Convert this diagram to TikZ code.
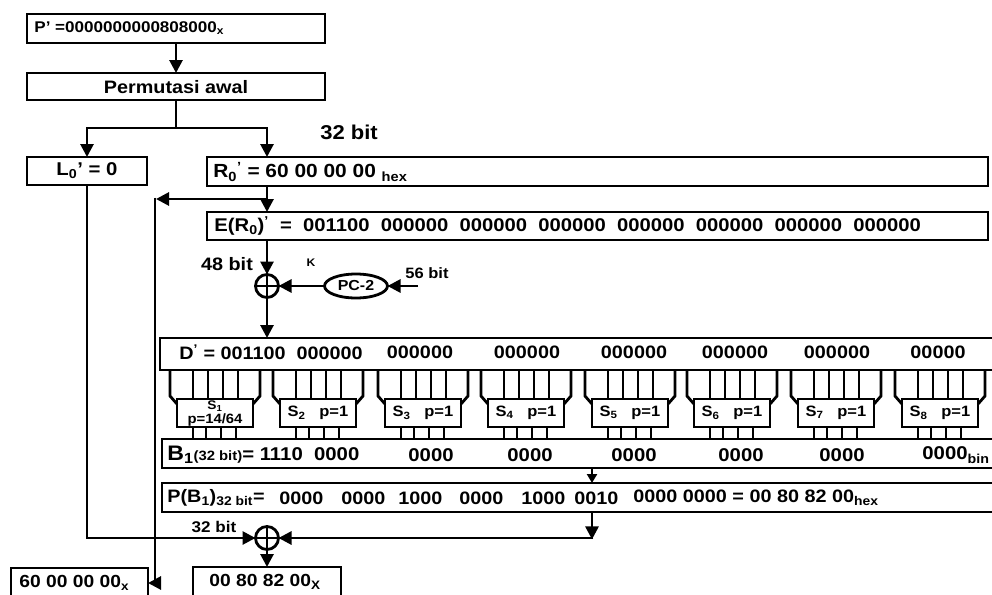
\documentclass[tikz,border=0pt]{standalone}
\usepackage{fontspec}
\setmainfont[FakeStretch=1.1]{Liberation Sans}
\usetikzlibrary{arrows.meta,shapes.geometric}
\newcommand{\sbs}[1]{\textsubscript{#1}}
\newcommand{\sps}[1]{\textsuperscript{#1}}
\newcommand{\fsz}[1]{\fontsize{#1}{#1}\selectfont}
\begin{document}
\begin{tikzpicture}[x=1pt,y=-1pt,
  line width=2.8pt,
  >={Triangle[length=13pt,width=13pt]},
  box/.style={draw, rectangle, line width=2.8pt, inner sep=0pt, outer sep=0pt, anchor=north west},
  tx/.style={inner sep=0pt, font=\bfseries\fontsize{#1}{#1}\selectfont},
  xor/.style={circle, draw, line width=2.8pt, minimum size=23pt, inner sep=0pt, outer sep=0pt,
    path picture={\draw[line width=2.8pt] (path picture bounding box.north) -- (path picture bounding box.south)
      (path picture bounding box.west) -- (path picture bounding box.east);}},
  small/.style={-{Triangle[length=9pt,width=10pt]}}
]
\useasboundingbox (0,0) rectangle (992,594);

% boxes
\node[box, minimum width=298pt, minimum height=29pt] (pp) at (27,14) {};
\node[box, minimum width=298pt, minimum height=27pt] (perm) at (27,73) {};
\node[box, minimum width=120pt, minimum height=28pt] (lz) at (27,157) {};
\node[box, minimum width=781pt, minimum height=29pt] (rz) at (207,157) {};
\node[box, minimum width=781pt, minimum height=28pt] (er) at (207,212) {};
\node[box, minimum width=840pt, minimum height=32pt] (dd) at (160,338) {};
\node[box, minimum width=840pt, minimum height=29pt] (bb) at (162,439) {};
\node[box, minimum width=840pt, minimum height=29pt] (pb) at (162,483) {};
\node[box, minimum width=137pt, minimum height=30pt] (oa) at (11,568) {};
\node[box, minimum width=148pt, minimum height=30pt] (ob) at (193,567) {};

% texts
\node[tx=15.5, anchor=west] (tpp) at (33,28) {P' =0000000000808000\sbs{x}};
\node[tx=18] (tperm) at (176,87) {Permutasi awal};
\node[tx=20] (t32) at (349,132) {32 bit};
\node[tx=18.5] (tlz) at (87,171) {L\sbs{0}' = 0};
\node[tx=19, anchor=west] (trz) at (212,172) {R\sbs{0}\sps{'}\ = 60 00 00 00\ \sbs{hex}};
\node[tx=18.4, anchor=west] (ter) at (213,226) {E(R\sbs{0})\sps{'}\ \ =\ \ 001100\ \ 000000\ \ 000000\ \ 000000\ \ 000000\ \ 000000\ \ 000000\ \ 000000};
\node[tx=18, anchor=west] (tdd) at (178,352) {D\sps{'} = 001100\ \ 000000};
\foreach \x/\t in {420/000000,527/000000,634/000000,735/000000,837/000000,938/00000}
  \node[tx=18] (dg\x) at (\x,352) {\t};
\node[tx=18.5, anchor=west] (tbb) at (166,455) {{\fsz{21}B\sbs{1}}{\fsz{13.5}(32 bit)}= 1110\ \ 0000};
\foreach \x in {431,530,634,741,842}
  \node[tx=18.5] (bg\x) at (\x,455) {0000};
\node[tx=18.5, anchor=west] (bglast) at (921,455) {0000\sbs{bin}};
\node[tx=18, anchor=west] (tpb) at (166,498) {P(B\sbs{1})\sbs{32 bit}=};
\foreach \x/\t in {278/0000,340/0000,397/1000,458/0000,520/1000,573/0010}
  \node[tx=18, anchor=west] (pg\x) at (\x,498) {\t};
\node[tx=18, anchor=west] (pglast) at (632,498) {0000 0000 = 00 80 82 00\sbs{hex}};
\node[tx=17.5, anchor=west] (toa) at (18,583) {60 00 00 00\sbs{x}};
\node[tx=17.5, anchor=west] (tob) at (208,582) {00 80 82 00\sbs{X}};

% top connectors
\coordinate (sp) at (176,128);
\draw[->] (pp.south) -- (perm.north);
\draw (perm.south) -- (sp);
\draw[->] (sp) -| (lz.north);
\draw[->] (sp) -| ([xshift=60pt]rz.north west);
\coordinate (rt) at ([xshift=60pt]rz.south west);
\draw[->] (rt) -- ([xshift=60pt]er.north west);
\coordinate (fb) at (267,199);
\draw[->] (fb) -- (156,199);
\draw[->] (155,197.6) |- (oa.east);

% round key
\node[xor] (x1) at (267,286) {};
\draw[->] ([xshift=60pt]er.south west) -- (x1.north);
\node[tx=18] (t48) at (227,264) {48 bit};
\node[tx=11] (tk) at (311,263) {K};
\node[draw, ellipse, line width=2.8pt, minimum width=63pt, minimum height=24pt, inner sep=0pt, outer sep=0pt, font=\bfseries\fsz{14.5}] (pc) at (356,286) {PC-2};
\draw[->] (pc.west) -- (x1.east);
\coordinate (k56) at (418,286);
\draw[->] (k56) -- (pc.east);
\node[tx=15] (t56) at (427,273) {56 bit};
\draw[->] (x1.south) -- (x1 |- dd.north);

% S-boxes
\foreach \i/\L in {1/177,2/280,3/385,4/488,5/592,6/694,7/798,8/902}{
  \node[box, minimum width=76pt, minimum height=28pt] (s\i) at (\L,399) {};
  \draw ({\L-7},370) -- ({\L-7},396) -- (\L,404);
  \draw ({\L+83},370) -- ({\L+83},396) -- ({\L+76},404);
  \foreach \o in {16,31,46,61} \draw ({\L+\o},370) -- ({\L+\o},399);
  \foreach \o in {16,29,44,59} \draw ({\L+\o},427) -- ({\L+\o},439);
}
\node[tx=12.5] (l1a) at (215,406) {S\sbs{1}};
\node[tx=13.5] (l1b) at (215,420) {p=14/64};
\foreach \i/\L in {2/280,3/385,4/488,5/592,6/694,7/798,8/902}
  \node[tx=15] (l\i) at ({\L+38},413) {S\sbs{\i}\ \ \ p=1};

% lower connectors
\coordinate (bp) at (592,0);
\draw[small] (bb.south -| bp) -- (pb.north -| bp);
\node[xor] (x2) at (267,538) {};
\draw[->] (pb.south -| bp) -- (592,539.4);
\draw[->] (593.4,538) -- (x2.east);
\draw[->] (lz.south) |- (x2.west);
\node[tx=15.5] (t32b) at (214,527) {32 bit};
\draw[->] (x2.south) -- (x2 |- ob.north);
\end{tikzpicture}
\end{document}
